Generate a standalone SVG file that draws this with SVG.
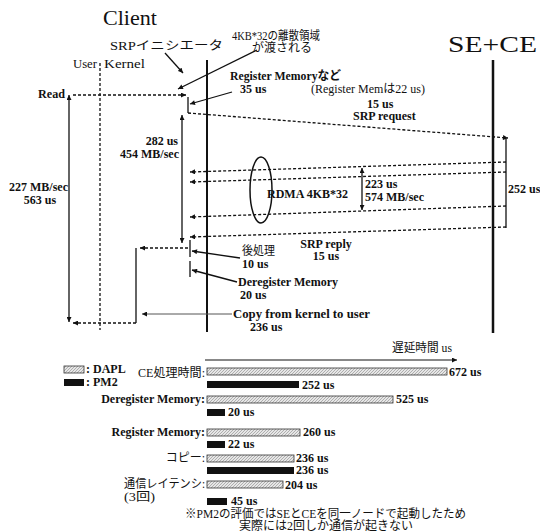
<svg xmlns="http://www.w3.org/2000/svg" width="540" height="531" viewBox="0 0 540 531">
<style>
.t{font-family:"Liberation Serif","DejaVu Serif","Noto Sans CJK JP",serif;font-size:12px;font-weight:bold;fill:#111}
.j{font-family:"Liberation Serif","DejaVu Serif","Noto Sans CJK JP",serif;font-size:12px;fill:#111}
.ttl{font-family:"Liberation Serif","DejaVu Serif",serif;fill:#111}
.d{stroke:#111;stroke-width:1.3;stroke-dasharray:3,2;fill:none}
.s{stroke:#111;stroke-width:1.3;fill:none}
.hb{fill:url(#hatch);stroke:#333;stroke-width:0.8}
.bb{fill:#111}
</style>
<defs>
<marker id="ah" viewBox="0 0 10 10" refX="10" refY="5" markerWidth="6" markerHeight="5" markerUnits="userSpaceOnUse" orient="auto-start-reverse"><path d="M0,0 L10,5 L0,10 z" fill="#111"/></marker>
<pattern id="hatch" patternUnits="userSpaceOnUse" width="3" height="3"><rect width="3" height="3" fill="#e6e6e6"/><path d="M0,3 L3,0" stroke="#888" stroke-width="0.6"/></pattern>
</defs>
<rect width="540" height="531" fill="#fff"/>

<g id="client">
<text class="ttl" x="103" y="25" font-size="22" textLength="54" lengthAdjust="spacingAndGlyphs">Client</text>
<line x1="207" y1="60" x2="207" y2="332" stroke="#111" stroke-width="2"/>
</g>
<g id="sece">
<text class="ttl" x="448" y="52" font-size="23" textLength="89" lengthAdjust="spacingAndGlyphs">SE+CE</text>
<line x1="493" y1="60" x2="493" y2="333" stroke="#111" stroke-width="2.5"/>
</g>
<g id="initiator">
<text class="j" x="110" y="50" font-size="14" textLength="113" lengthAdjust="spacingAndGlyphs">SRPイニシエータ</text>
</g>
<g id="userkernel">
<text class="j" x="73" y="68" textLength="24" lengthAdjust="spacingAndGlyphs">User</text>
<text class="j" x="104" y="68" textLength="41" lengthAdjust="spacingAndGlyphs">Kernel</text>
<line class="d" x1="100" y1="63" x2="100" y2="330" stroke-width="1.2"/>
</g>

<g id="labels">
<text class="t" x="38" y="98" textLength="27" lengthAdjust="spacingAndGlyphs">Read</text>
<text class="j" x="232" y="40" textLength="88" lengthAdjust="spacingAndGlyphs">4KB*32の離散領域</text>
<text class="j" x="252" y="52">が渡される</text>
<text class="t" x="230" y="80" textLength="111" lengthAdjust="spacingAndGlyphs">Register Memoryなど</text>
<text class="t" x="240" y="93">35 us</text>
<text class="j" x="311" y="93" font-size="11.5">(Register Memは22 us)</text>
<text class="t" x="367" y="108">15 us</text>
<text class="t" x="353" y="120">SRP request</text>
<text class="t" x="178" y="145" text-anchor="end">282 us</text>
<text class="t" x="179" y="158" text-anchor="end">454 MB/sec</text>
<text class="t" x="68" y="191" text-anchor="end">227 MB/sec</text>
<text class="t" x="40" y="204" text-anchor="middle">563 us</text>
<text class="t" x="267" y="198">RDMA 4KB*32</text>
<text class="t" x="365" y="188">223 us</text>
<text class="t" x="365" y="201">574 MB/sec</text>
<text class="t" x="508" y="193">252 us</text>
<text class="t" x="326" y="248" text-anchor="middle">SRP reply</text>
<text class="t" x="326" y="260" text-anchor="middle">15 us</text>
<text class="j" x="242" y="255" textLength="33" lengthAdjust="spacingAndGlyphs">後処理</text>
<text class="t" x="242" y="268">10 us</text>
<text class="t" x="238" y="286" font-size="11" textLength="100" lengthAdjust="spacingAndGlyphs">Deregister Memory</text>
<text class="t" x="240" y="299" font-size="11">20 us</text>
<text class="t" x="233" y="318" font-size="11" textLength="137" lengthAdjust="spacingAndGlyphs">Copy from kernel to user</text>
<text class="t" x="250" y="331" font-size="11">236 us</text>
</g>

<g id="connectors">
<line class="s" x1="165" y1="53" x2="183" y2="73" marker-end="url(#ah)"/>
<line class="s" x1="257" y1="50" x2="178" y2="89" marker-end="url(#ah)"/>
<line class="s" x1="232" y1="92" x2="190" y2="104" marker-end="url(#ah)"/>
<line class="d" x1="73" y1="95" x2="186" y2="95" marker-end="url(#ah)"/>
<line class="s" x1="69" y1="95" x2="69" y2="322" marker-start="url(#ah)" marker-end="url(#ah)"/>
<line class="s" x1="188" y1="97" x2="188" y2="113" stroke-width="1.6"/>
<line class="d" x1="188" y1="113" x2="508" y2="138" marker-end="url(#ah)"/>
<line class="s" x1="182" y1="115" x2="182" y2="243" marker-start="url(#ah)" marker-end="url(#ah)"/>
<line class="s" x1="506" y1="138" x2="506" y2="228"/>
<line class="d" x1="506" y1="162" x2="190" y2="172" marker-end="url(#ah)"/>
<line class="d" x1="506" y1="172" x2="190" y2="182" marker-end="url(#ah)"/>
<line class="d" x1="506" y1="206" x2="190" y2="217" marker-end="url(#ah)"/>
<line class="d" x1="506" y1="227" x2="190" y2="237" marker-end="url(#ah)"/>
<ellipse cx="261" cy="190" rx="11" ry="33" fill="none" stroke="#111" stroke-width="1.5"/>
<line class="s" x1="362" y1="168" x2="362" y2="210" marker-start="url(#ah)" marker-end="url(#ah)"/>
<line class="s" x1="190" y1="240" x2="190" y2="257" stroke-width="1.6"/>
<line class="s" x1="190" y1="261" x2="190" y2="277" stroke-width="1.6"/>
<line class="s" x1="240" y1="258" x2="192" y2="251" marker-end="url(#ah)"/>
<line class="s" x1="237" y1="282" x2="192" y2="270" marker-end="url(#ah)"/>
<line class="d" x1="188" y1="248" x2="140" y2="248" marker-end="url(#ah)"/>
<line class="s" x1="136" y1="248" x2="136" y2="323"/>
<line class="d" x1="136" y1="323" x2="73" y2="323" marker-end="url(#ah)"/>
<line x1="232" y1="314" x2="142" y2="314" stroke="#555" stroke-width="1" marker-end="url(#ah)"/>
</g>

<g id="chart">
<text class="j" x="392" y="352" textLength="60" lengthAdjust="spacingAndGlyphs">遅延時間 us</text>
<line x1="205" y1="360" x2="457" y2="360" stroke="#111" stroke-width="1" marker-end="url(#ah)"/>
<rect class="hb" x="64" y="366" width="20" height="7"/>
<text class="t" x="86" y="373" font-size="10">: DAPL</text>
<rect class="bb" x="64" y="379" width="20" height="7"/>
<text class="t" x="86" y="386" font-size="10">: PM2</text>

<text class="j" x="205" y="377" text-anchor="end" textLength="67" lengthAdjust="spacingAndGlyphs">CE処理時間:</text>
<rect class="hb" x="207" y="368" width="240" height="7"/>
<text class="t" x="449" y="376">672 us</text>
<rect class="bb" x="207" y="381" width="92" height="7"/>
<text class="t" x="302" y="389">252 us</text>

<text class="t" x="205" y="403" text-anchor="end">Deregister Memory:</text>
<rect class="hb" x="207" y="396" width="186" height="7"/>
<text class="t" x="396" y="403">525 us</text>
<rect class="bb" x="207" y="409" width="18" height="7"/>
<text class="t" x="228" y="416">20 us</text>

<text class="t" x="205" y="436" text-anchor="end">Register Memory:</text>
<rect class="hb" x="207" y="429" width="93" height="7"/>
<text class="t" x="303" y="436">260 us</text>
<rect class="bb" x="207" y="441" width="18" height="7"/>
<text class="t" x="228" y="448">22 us</text>

<text class="j" x="205" y="462" text-anchor="end">コピー:</text>
<rect class="hb" x="207" y="455" width="87" height="7"/>
<text class="t" x="296" y="462">236 us</text>
<rect class="bb" x="207" y="467" width="87" height="7"/>
<text class="t" x="296" y="474">236 us</text>

<text class="j" x="205" y="488" text-anchor="end" textLength="81" lengthAdjust="spacingAndGlyphs">通信レイテンシ:</text>
<text class="j" x="124" y="501" textLength="31" lengthAdjust="spacingAndGlyphs">(3回)</text>
<rect class="hb" x="207" y="481" width="76" height="7"/>
<text class="t" x="285" y="489">204 us</text>
<rect class="bb" x="207" y="498" width="20" height="7"/>
<text class="t" x="231" y="505">45 us</text>

<text class="j" x="185" y="518" font-size="11" textLength="281" lengthAdjust="spacingAndGlyphs">※PM2の評価ではSEとCEを同一ノードで起動したため</text>
<text class="j" x="326" y="530" font-size="11" text-anchor="middle">実際には2回しか通信が起きない</text>
</g>
</svg>
